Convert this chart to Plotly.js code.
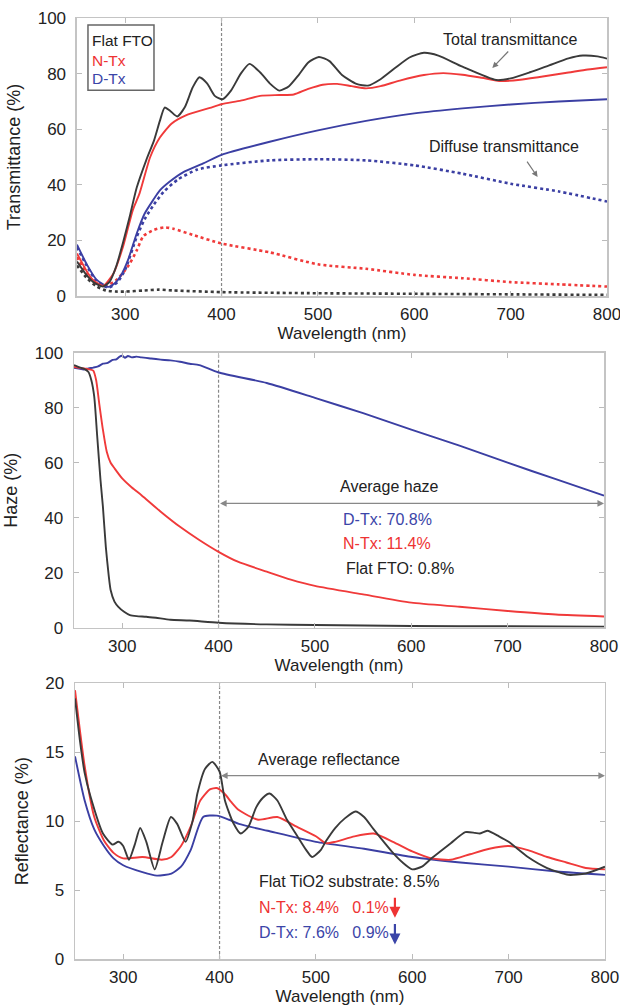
<!DOCTYPE html>
<html>
<head>
<meta charset="utf-8">
<script src="https://cdn.plot.ly/plotly-3.0.1.min.js"></script>
<style>html,body{margin:0;padding:0;background:#fff;}#chart{width:620px;height:1007px;}</style>
</head>
<body>
<div id="chart"></div>
<script>
// ---------- Panel 1: Transmittance ----------
const wlTotFlat = [250,260,267,277,284,291,298,305,312,322,330,336,341,347,354,362,370,377,385,393,401,410,420,429,440,450,460,470,480,490,501,512,525,540,552,565,580,595,610,625,650,685,700,720,740,760,775,790,800];
const totFlat   = [12.4,7.5,5,3.4,5.2,11,19.5,29,39,49,56,63,67.8,66.5,64.6,68,75,78.7,76.5,72,70.8,74,80,83.5,80.5,76.5,73.9,75.5,79.5,84,86,84.5,79.5,76.3,75.7,78,82,85.8,87.5,86.5,82.5,77.7,78.3,80.5,83,85.5,86.5,86.2,85.4];
const wlTotN = [250,260,266,277,288,298,308,315,326,336,348,363,388,400,420,440,460,475,490,505,520,535,550,565,585,610,630,650,670,690,710,730,760,780,800];
const totN   = [15.3,9,6,3.6,8.2,18,31,37,50,57,62,65,67.7,69,70.3,72,72.3,72.5,74.5,76,76.3,75.5,74.7,75.5,77.5,79.5,80.2,79.6,78.5,77.3,77.8,78.8,80.4,81.5,82.3];
const wlTotD = [250,260,270,282.5,289,295,303,312,320,329,336,346,360,381,400,450,500,550,600,650,700,750,800];
const totD   = [18.5,11.5,6,3.3,4.5,7,13,22.5,29.5,34.5,38,41.1,44.5,47.7,50.8,55.5,59.6,63,65.7,67.5,68.9,70,70.8];
const wlDifFlat = [250,260,270,280,290,300,320,335,350,400,500,600,700,800];
const difFlat   = [11,6.5,3.5,2,1.6,1.6,2.0,2.3,2.0,1.4,1.0,0.8,0.6,0.4];
const wlDifN = [250,260,268,278,290,298,305,312,319,330,341,350,370,400,450,500,550,600,650,700,750,800];
const difN   = [14,8,5,3.5,5.5,8.5,11.8,16.4,21.6,23.8,24.7,24.2,22,18.9,15.7,11.4,9.8,7.6,6.4,5,4.2,3.4];
const wlDifD = [250,260,270,282.5,292,300,312,320,330,340,355,375,400,450,500,550,600,650,700,750,800];
const difD   = [17.5,11,5.5,3.0,5,9.5,21.3,27.5,33,37.5,42,45.5,47,48.8,49.2,48.8,47,44,40.4,37.6,34];

// ---------- Panel 2: Haze ----------
const wlHazeD = [250,255,260,265,270,275,280,285,290,294,297,300,303,306,310,315,320,330,340,350,360,370,380,400,450,500,550,600,650,700,750,800];
const hazeD   = [94.5,94.2,93.9,94.3,94.6,95.0,96.0,96.3,97.4,97.6,98.5,98.9,98.2,98.8,98.3,98.6,98.3,97.9,97.5,97.2,96.7,96.0,95.5,92.8,89.0,83.6,78.0,72.0,66.2,60.0,54.0,48.0];
const wlHazeN = [250,260,265,270,273,276,280,284,288,292,300,310,320,340,360,380,400,420,450,475,500,550,600,650,700,750,800];
const hazeN   = [94.8,94.3,94.0,93.5,90,82,72,64,60,58,54.3,51,48.2,42.2,36.7,31.9,27.6,24,20.4,17.5,15.2,12.1,9.1,7.6,6.1,4.8,4.1];
const wlHazeFlat = [250,255,260,265,268,271,274,277.5,280,283,286,288,292,296,302,308,315,325,335,350,370,400,450,500,600,700,800];
const hazeFlat   = [95.5,94.8,94.2,93,90,84,70,53.7,44,29.5,19,13.7,9.5,7.6,5.8,4.6,4.2,4.0,3.6,2.9,2.6,1.8,1.2,1.0,0.6,0.5,0.4];

// ---------- Panel 3: Reflectance ----------
const wlRefFlat = [250,255,260,266,279,289,295,300,306,312,317.6,324,332.7,341,349.5,356,364.7,372,377,385,392.5,400,405.6,414,422,430,438,445,452,460,470,480,490,496,505,510,520,530,541,550,560,580,590,600,610,620,640,655,665,670,678,690,700,720,740,762,780,800];
const refFlat   = [18.9,15.9,13.5,11.8,9.1,8.3,8.5,8.2,7.2,8.3,9.5,8.5,6.5,8.5,10.3,9.8,8.5,10,12,13.8,14.3,13.6,11.5,9.9,9.1,9.6,11,11.7,12.0,11.5,10.1,9.0,7.9,7.4,7.9,8.5,9.5,10.2,10.7,10.3,9.4,7.7,7.0,6.5,6.7,7.3,8.4,9.2,9.15,9.1,9.3,8.9,8.5,7.4,6.6,6.1,6.2,6.7];
const wlRefN = [250,260,270,280,290,300,320,340,350,360,370,380,390,397,405,412,420,440,460,480,500,510,520,540,560,580,600,620,640,660,680,700,720,740,760,780,800];
const refN   = [19.5,14,10.3,8.6,7.7,7.3,7.4,7.2,7.4,8.2,9.6,11.5,12.3,12.4,12.0,11.4,10.8,10.1,10.3,9.6,8.9,8.4,8.5,8.9,9.1,8.5,7.8,7.3,7.2,7.6,8.0,8.2,7.9,7.4,7.0,6.6,6.5];
const wlRefD = [250,260,270,280,290,300,320,335,350,360,370,383,397,410,420,450,500,550,600,650,700,750,800];
const refD   = [14.7,11.5,9.4,8.2,7.3,6.8,6.3,6.05,6.2,6.7,7.9,10.3,10.4,10.1,9.8,9.3,8.5,8.0,7.4,7.0,6.7,6.35,6.1];

// ---------- labels / constants ----------
const xTicks = [300,400,500,600,700,800];
const avgStart = 400, avgEnd = 800;
const legendNames = ['Flat FTO','N-Tx','D-Tx'];
const hazeTexts = ['D-Tx: 70.8%','N-Tx: 11.4%','Flat FTO: 0.8%'];
const refTexts = ['Flat TiO2 substrate: 8.5%','N-Tx: 8.4%\u00a0\u00a0 0.1%','D-Tx: 7.6%\u00a0\u00a0 0.9%'];

const BLACK = '#3a3a3a', RED = '#f03a3a', BLUE = '#3b3fa3';
const TXT_RED = '#ee3333', TXT_BLUE = '#3b45a8';

function line(x, y, color, ax, dash) {
  return {x: x, y: y, type: 'scatter', mode: 'lines', xaxis: ax[0], yaxis: ax[1],
    line: {color: color, width: dash ? 2.6 : 1.9, dash: dash || 'solid', shape: 'spline', smoothing: 0.6},
    hoverinfo: 'skip', showlegend: false};
}

const p1 = ['x','y'], p2 = ['x2','y2'], p3 = ['x3','y3'];
const data = [
  line(wlDifFlat, difFlat, BLACK, p1, 'dot'),
  line(wlDifN, difN, RED, p1, 'dot'),
  line(wlDifD, difD, BLUE, p1, 'dot'),
  line(wlTotD, totD, BLUE, p1),
  line(wlTotN, totN, RED, p1),
  line(wlTotFlat, totFlat, BLACK, p1),
  line(wlHazeD, hazeD, BLUE, p2),
  line(wlHazeN, hazeN, RED, p2),
  line(wlHazeFlat, hazeFlat, BLACK, p2),
  line(wlRefD, refD, BLUE, p3),
  line(wlRefN, refN, RED, p3),
  line(wlRefFlat, refFlat, BLACK, p3)
];

const FONT = 'Liberation Sans, Arial, Helvetica, sans-serif';
function xa(domain, anchor) {
  return {domain: domain, anchor: anchor, range: [250, 800], tickvals: xTicks,
    showline: true, mirror: 'ticks', linecolor: '#c4c4c4', linewidth: 1.5,
    ticks: 'inside', ticklen: 5, tickcolor: '#bbbbbb', showgrid: false, zeroline: false,
    tickfont: {size: 17, color: '#222'}, ticklabelstandoff: 2, ticklabeloverflow: 'allow',
    title: {text: 'Wavelength (nm)', font: {size: 17, color: '#222'}, standoff: 2},
    automargin: false, fixedrange: true};
}
function ya(domain, anchor, range, dtick, title) {
  return {domain: domain, anchor: anchor, range: range, dtick: dtick,
    showline: true, mirror: 'ticks', linecolor: '#c4c4c4', linewidth: 1.5,
    ticks: 'inside', ticklen: 5, tickcolor: '#bbbbbb', showgrid: false, zeroline: false,
    tickfont: {size: 17, color: '#222'}, ticklabelstandoff: 6, ticklabeloverflow: 'allow',
    title: {text: title, font: {size: 18, color: '#222'}, standoff: 12},
    automargin: false, fixedrange: true};
}

function vline(xr, yr) {
  return {type: 'line', xref: xr, yref: yr + ' domain', x0: avgStart, x1: avgStart, y0: 0, y1: 1,
    line: {color: '#888', width: 1.2, dash: '3px,2px'}, layer: 'below'};
}

function txt(x, y, xr, yr, text, color, anchor, size) {
  return {x: x, y: y, xref: xr, yref: yr, text: text, showarrow: false,
    xanchor: anchor || 'left', yanchor: 'middle', font: {size: size || 16, color: color, family: FONT}};
}
function arrow(x, y, ax, ay, xr, yr, color, width, both) {
  return {x: x, y: y, ax: ax, ay: ay, xref: xr, yref: yr, axref: xr, ayref: yr, text: '',
    showarrow: true, arrowhead: 2, startarrowhead: 2, arrowsize: both ? 1.1 : 1, arrowwidth: width,
    arrowcolor: color, arrowside: both ? 'end+start' : 'end'};
}

const annotations = [
  // legend
  txt(264, 91.8, 'x', 'y', legendNames[0], '#222', 'left', 15.5),
  txt(264, 84.9, 'x', 'y', legendNames[1], TXT_RED, 'left', 15.5),
  txt(264, 78.1, 'x', 'y', legendNames[2], TXT_BLUE, 'left', 15.5),
  // panel 1 labels
  txt(699, 92.4, 'x', 'y', 'Total transmittance', '#222', 'center'),
  arrow(681, 82, 699, 88.5, 'x', 'y', '#777', 1.2),
  txt(692.6, 53.7, 'x', 'y', 'Diffuse transmittance', '#222', 'center'),
  arrow(728, 42.8, 716, 48.9, 'x', 'y', '#777', 1.2),
  // panel 2
  txt(577, 51.2, 'x2', 'y2', 'Average haze', '#222', 'center'),
  arrow(avgEnd, 45.2, avgStart, 45.2, 'x2', 'y2', '#888', 1.2, true),
  txt(527, 39.2, 'x2', 'y2', hazeTexts[0], TXT_BLUE),
  txt(527, 30.8, 'x2', 'y2', hazeTexts[1], TXT_RED),
  txt(530, 21.5, 'x2', 'y2', hazeTexts[2], '#222'),
  // panel 3
  txt(514, 14.5, 'x3', 'y3', 'Average reflectance', '#222', 'center'),
  arrow(avgEnd, 13.3, avgStart, 13.3, 'x3', 'y3', '#888', 1.2, true),
  txt(438.5, 5.62, 'x3', 'y3', refTexts[0], '#222'),
  txt(438.5, 3.72, 'x3', 'y3', refTexts[1], TXT_RED),
  txt(438.5, 1.9, 'x3', 'y3', refTexts[2], TXT_BLUE),
  arrow(582, 3.0, 582, 4.55, 'x3', 'y3', TXT_RED, 2.2),
  arrow(582, 1.05, 582, 2.65, 'x3', 'y3', TXT_BLUE, 2.2)
];

const shapes = [
  vline('x', 'y'), vline('x2', 'y2'), vline('x3', 'y3'),
  {type: 'rect', xref: 'x', yref: 'y', x0: 261.4, x1: 329.9, y0: 74, y1: 97.5,
   line: {color: '#666', width: 1.5}, fillcolor: 'rgba(0,0,0,0)'}
];

const layout = {
  width: 620, height: 1007,
  margin: {l: 74, r: 13, t: 17, b: 48},
  paper_bgcolor: '#fff', plot_bgcolor: '#fff',
  font: {family: FONT, color: '#222'},
  showlegend: false,
  xaxis: xa([0.0056, 1], 'y'),
  yaxis: ya([0.7038, 0.9989], 'x', [0, 100], 20, 'Transmittance (%)'),
  xaxis2: xa([0.0, 0.9944], 'y2'),
  yaxis2: ya([0.3517, 0.6436], 'x2', [0, 100], 20, 'Haze (%)'),
  xaxis3: xa([0.0019, 0.9962], 'y3'),
  yaxis3: ya([0, 0.2927], 'x3', [0, 20], 5, 'Reflectance (%)'),
  annotations: annotations,
  shapes: shapes
};

Plotly.newPlot('chart', data, layout, {staticPlot: true, displayModeBar: false});
</script>
</body>
</html>
